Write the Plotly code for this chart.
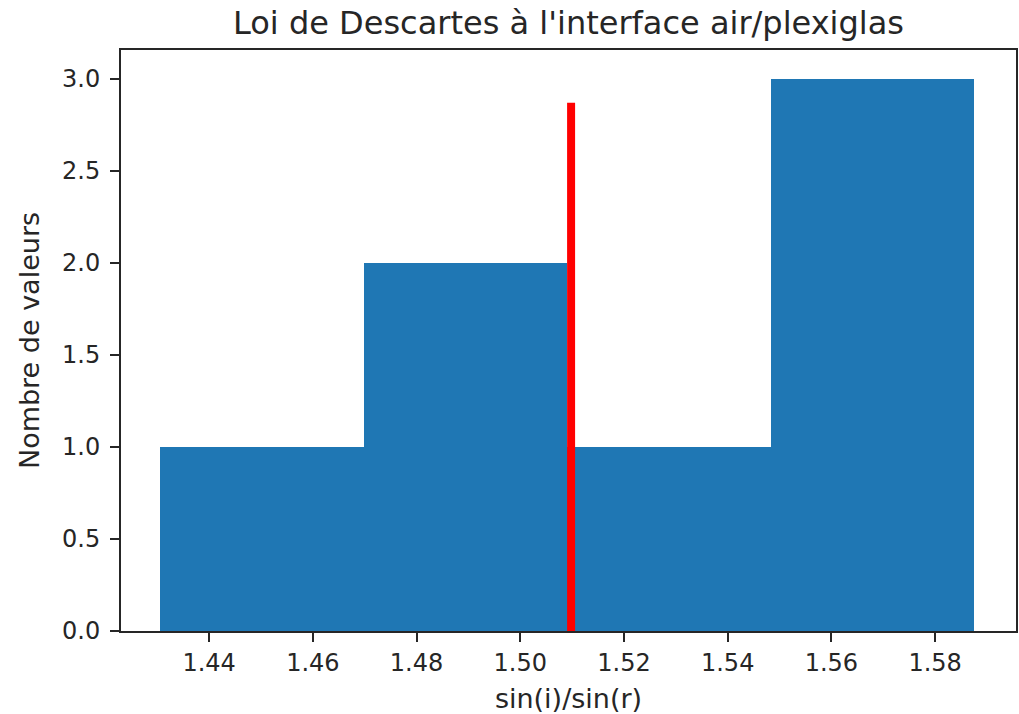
import plotly.graph_objects as go

# Data
bin_edges = [1.4306, 1.469825, 1.50905, 1.548275, 1.5875]
counts = [1, 2, 1, 3]
ref_value = 1.5098
ref_height = 2.87
x_ticks = [1.44, 1.46, 1.48, 1.50, 1.52, 1.54, 1.56, 1.58]
y_ticks = [0.0, 0.5, 1.0, 1.5, 2.0, 2.5, 3.0]

centers = [(a + b) / 2 for a, b in zip(bin_edges[:-1], bin_edges[1:])]
widths = [b - a for a, b in zip(bin_edges[:-1], bin_edges[1:])]

xr = [1.4230, 1.5956]
yr = [0, 3.157]

fig = go.Figure()
fig.add_trace(go.Bar(x=centers, y=counts, width=widths,
                     marker=dict(color="#1f77b4", line=dict(width=0)),
                     showlegend=False))
fig.add_trace(go.Scatter(x=[ref_value, ref_value], y=[0, ref_height], mode="lines",
                         line=dict(color="#ff0000", width=8), showlegend=False))

font = "DejaVu Sans"
fig.update_layout(
    width=1019, height=714,
    margin=dict(l=121, r=3, t=50, b=83, autoexpand=False),
    paper_bgcolor="white", plot_bgcolor="white",
    font=dict(family=font, size=24, color="#262626"),
    bargap=0,
    title=dict(text="Loi de Descartes à l'interface air/plexiglas",
               x=0.5, xref="paper", xanchor="center",
               y=1 - 23 / 714, yref="container", yanchor="middle",
               font=dict(family=font, size=32, color="#262626")),
)
fig.update_xaxes(range=xr, tickvals=x_ticks, ticktext=[f"{v:.2f}" for v in x_ticks],
                 showgrid=False, zeroline=False, showline=True, mirror=True,
                 linecolor="#262626", linewidth=2, ticks="outside", ticklen=9,
                 tickwidth=2, tickcolor="#262626", automargin=False,
                 title=dict(text="sin(i)/sin(r)", standoff=15,
                            font=dict(family=font, size=27)))
fig.update_yaxes(range=yr, tickvals=y_ticks, ticktext=[f"{v:.1f}" for v in y_ticks],
                 showgrid=False, zeroline=False, showline=True, mirror=True,
                 linecolor="#262626", linewidth=2, ticks="outside", ticklen=9,
                 tickwidth=2, tickcolor="#262626", automargin=False,
                 ticklabelstandoff=5,
                 title=dict(text="Nombre de valeurs", standoff=15,
                            font=dict(family=font, size=27)))

fig.write_html("out.html")
